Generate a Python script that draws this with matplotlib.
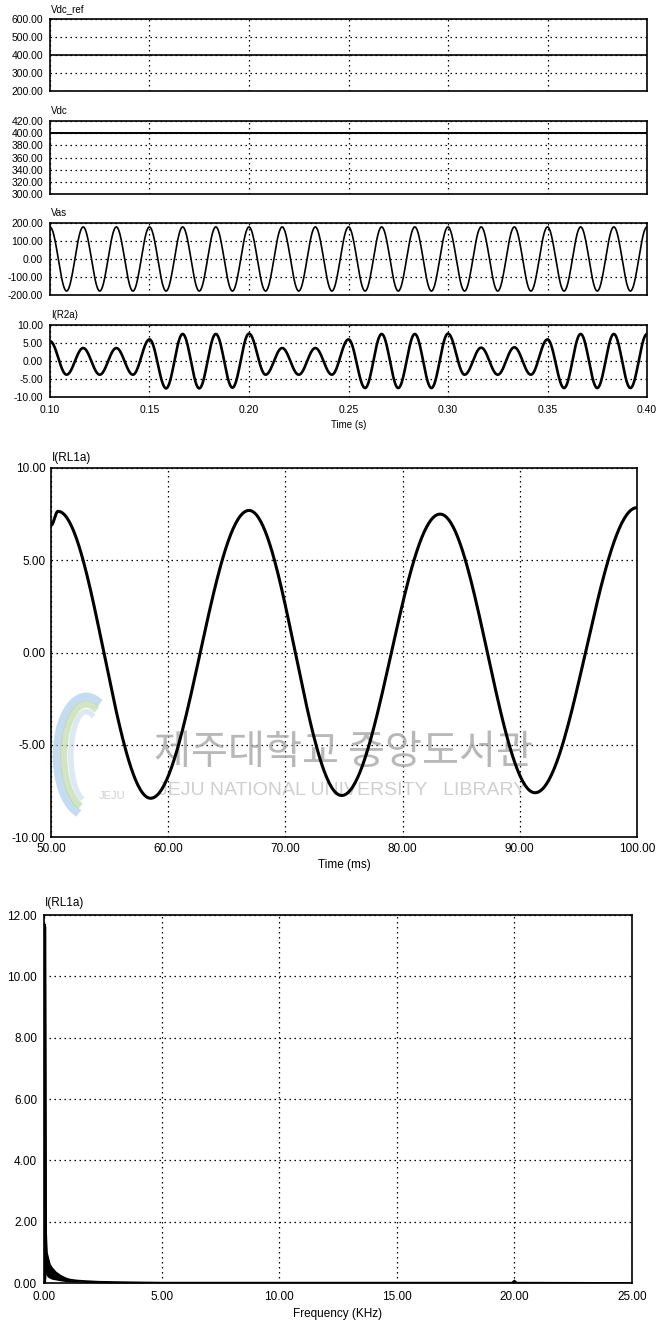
import numpy as np
import matplotlib
matplotlib.use('Agg')
import matplotlib.pyplot as plt
from matplotlib.ticker import FormatStrFormatter, MultipleLocator

plt.rcParams['font.family'] = ['Liberation Sans', 'DejaVu Sans']
plt.rcParams['axes.unicode_minus'] = False

# values
vdc_ref_t = [0.10, 0.40]
vdc_ref_v = [400.0, 400.0]
vdc_t = [0.10, 0.40]
vdc_v = [401.0, 401.0]

line_freq = 60.0                      # Hz, peaks/troughs every half period
vas_ext = [178, -178] * 18 + [178]    # Vas extremes from t = 0.10 s
ir2a_ext = [5.5, -3.8, 3.6, -3.8, 3.6, -3.8,
            6.0, -7.6, 7.5, -7.6, 7.5, -7.4,
            7.6, -3.8, 3.6, -3.8, 3.6, -3.8,
            6.0, -7.5, 7.5, -7.5, 7.5, -7.5,
            7.6, -3.8, 3.7, -3.8, 3.8, -3.8,
            6.0, -7.5, 7.5, -7.5, 7.5, -7.5, 7.5]

rl_t = [50.0, 50.6, 58.5, 66.9, 74.8, 83.2, 91.3, 100.0]   # ms
rl_v = [6.9, 7.65, -7.9, 7.7, -7.75, 7.5, -7.6, 7.85]

fft_f = [0.0, 0.03, 0.06, 0.09, 0.12, 0.18, 0.25, 0.35, 0.5, 0.7, 0.9,
         1.1, 1.4, 1.8, 2.3, 3.0, 3.8, 5.0, 10.0, 19.9, 20.0, 20.1, 25.0]
fft_hi = [0.0, 11.7, 11.6, 1.6, 1.0, 0.8, 0.6, 0.48, 0.35, 0.24, 0.16,
          0.11, 0.08, 0.06, 0.04, 0.03, 0.02, 0.01, 0.01, 0.01, 0.08, 0.01, 0.0]
fft_lo = [0.0, 0.0, 0.0, 0.3, 0.22, 0.18, 0.15, 0.12, 0.1, 0.07, 0.05,
          0.04, 0.03, 0.02, 0.01, 0.0, 0.0, 0.0, 0.0, 0.0, 0.0, 0.0, 0.0]


def through_extrema(te, ve, n=40):
    # half-cosine segments between successive turning points
    tt, vv = [], []
    for i in range(len(te) - 1):
        s = np.linspace(0, 1, n, endpoint=False)
        tt.append(te[i] + s * (te[i + 1] - te[i]))
        vv.append(ve[i] + (ve[i + 1] - ve[i]) * (1 - np.cos(np.pi * s)) / 2)
    tt.append([te[-1]])
    vv.append([ve[-1]])
    return np.concatenate(tt), np.concatenate(vv)


ext_t = 0.10 + np.arange(len(vas_ext)) / (2 * line_freq)
vas_t, vas_v = through_extrema(ext_t, vas_ext)
ir_t, ir_v = through_extrema(ext_t, ir2a_ext)
rl_tt, rl_vv = through_extrema(rl_t, rl_v, n=80)

W, H = 658, 1325
fig = plt.figure(figsize=(W / 100, H / 100), dpi=100)


def box(l, t, r, b):
    return [l / W, 1 - b / H, (r - l) / W, (b - t) / H]


def style(ax, fs, ypad, xpad):
    ax.grid(True, color='black', linestyle=(0, (1.2, 2.8)), linewidth=0.9)
    ax.set_axisbelow(True)
    for s in ax.spines.values():
        s.set_linewidth(1.2)
    ax.tick_params(length=0, labelsize=fs)
    ax.tick_params(axis='y', pad=ypad)
    ax.tick_params(axis='x', pad=xpad)
    ax.yaxis.set_major_formatter(FormatStrFormatter('%.2f'))
    ax.xaxis.set_major_formatter(FormatStrFormatter('%.2f'))


def title(ax, txt, fs, dy):
    ax.text(0.002, 1 + dy, txt, transform=ax.transAxes, ha='left',
            va='bottom', fontsize=fs)


# top four stacked panels
tops = [(19, 91), (121, 194), (223, 295), (325, 397)]
axs = [fig.add_axes(box(50, t, 647, b)) for t, b in tops]

ax = axs[0]
ax.plot(vdc_ref_t, vdc_ref_v, color='black', lw=1.2)
ax.set_ylim(200, 600)
ax.yaxis.set_major_locator(MultipleLocator(100))
title(ax, 'Vdc_ref', 7, 0.07)

ax = axs[1]
ax.plot(vdc_t, vdc_v, color='black', lw=1.4)
ax.set_ylim(300, 420)
ax.yaxis.set_major_locator(MultipleLocator(20))
title(ax, 'Vdc', 7, 0.07)

ax = axs[2]
ax.plot(vas_t, vas_v, color='black', lw=1.2)
ax.set_ylim(-200, 200)
ax.yaxis.set_major_locator(MultipleLocator(100))
title(ax, 'Vas', 7, 0.07)

ax = axs[3]
ax.plot(ir_t, ir_v, color='black', lw=1.9)
ax.set_ylim(-10, 10)
ax.yaxis.set_major_locator(MultipleLocator(5))
title(ax, 'I(R2a)', 7, 0.07)

for i, ax in enumerate(axs):
    ax.set_xlim(0.10, 0.40)
    ax.set_xticks(np.arange(0.10, 0.401, 0.05))
    style(ax, 7.5, 5, 6)
    if i < 3:
        ax.tick_params(axis='x', labelbottom=False)
axs[3].set_xlabel('Time (s)', fontsize=7, labelpad=3)

# I(RL1a) in time
ax5 = fig.add_axes(box(51, 468, 637, 837))
ax5.plot(rl_tt, rl_vv, color='black', lw=2.2, zorder=3)
ax5.set_xlim(50, 100)
ax5.set_ylim(-10, 10)
ax5.xaxis.set_major_locator(MultipleLocator(10))
ax5.yaxis.set_major_locator(MultipleLocator(5))
style(ax5, 8.5, 4, 4)
ax5.set_xlabel('Time (ms)', fontsize=8.5, labelpad=3)
title(ax5, 'I(RL1a)', 8.5, 0.012)

# library watermark
ax5.text(0.5, 0.228, '제주대학교 중앙도서관', transform=ax5.transAxes,
         ha='center', va='center', fontsize=29, color='#a0a0a0', alpha=0.75,
         family=['Noto Sans CJK KR', 'DejaVu Sans'], zorder=1)
ax5.text(0.497, 0.125, 'JEJU NATIONAL UNIVERSITY   LIBRARY',
         transform=ax5.transAxes, ha='center', va='center', fontsize=14,
         color='#c4c4c4', alpha=0.8, zorder=1)
th = np.linspace(0, np.pi, 60)
for k, c in enumerate(['#9fc6e6', '#b5d59a', '#c9d9ea']):
    ax5.plot(0.06 + (0.05 - 0.012 * k) * np.cos(th + 1.2),
             0.22 + (0.16 - 0.02 * k) * np.sin(th + 1.2),
             transform=ax5.transAxes, color=c, lw=6 - k, alpha=0.6, zorder=1)
ax5.text(0.105, 0.11, 'JEJU', transform=ax5.transAxes, ha='center',
         va='center', fontsize=8, color='#d0d0d0', zorder=1)

# I(RL1a) spectrum
ax6 = fig.add_axes(box(44, 915, 632, 1283))
ax6.fill_between(fft_f, fft_lo, fft_hi, color='black', lw=0, zorder=3)
ax6.plot(fft_f, fft_hi, color='black', lw=1.3, zorder=3)
ax6.set_xlim(0, 25)
ax6.set_ylim(0, 12)
ax6.xaxis.set_major_locator(MultipleLocator(5))
ax6.yaxis.set_major_locator(MultipleLocator(2))
style(ax6, 8.5, 5, 6)
ax6.set_xlabel('Frequency (KHz)', fontsize=8.5, labelpad=3)
title(ax6, 'I(RL1a)', 8.5, 0.015)

fig.savefig('out.png', dpi=100)
